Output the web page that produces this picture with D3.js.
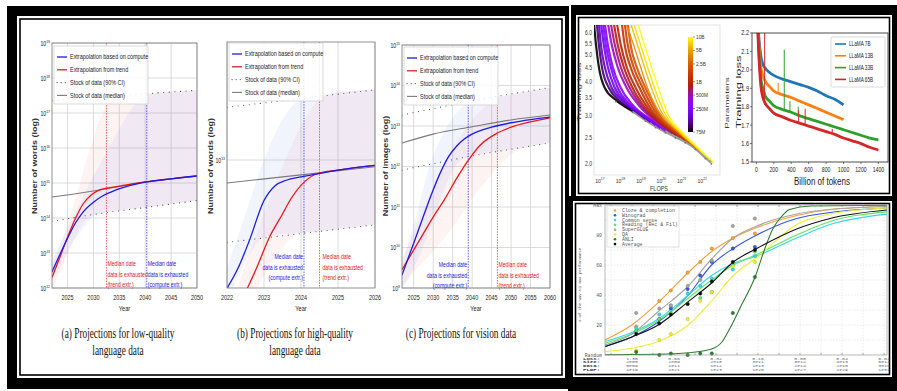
<!DOCTYPE html>
<html><head><meta charset="utf-8">
<script src="https://cdn.jsdelivr.net/npm/d3@7/dist/d3.min.js"></script>
<style>html,body{margin:0;padding:0;background:#fff;overflow:hidden}svg{display:block}</style>
</head><body>
<svg id="chart" width="897" height="391"></svg>
<script>
// ================= DATA =================
// Left figure — all values are log10 of the quantity, as [year, value] or [year, low, high]
const legendLabels = ["Extrapolation based on compute", "Extrapolation from trend", "Stock of data (90% CI)", "Stock of data (median)"];
const computeNote = ["Median date", "data is exhausted", "(compute extr.)"];
const trendNote = ["Median date", "data is exhausted", "(trend extr.)"];

// (a) low-quality language data (words)
const aMedian = [[2022,14.6],[2026,14.68],[2030,14.77],[2035,14.9],[2040,15.03],[2045,15.12],[2050,15.2]];
const aLow = [[2022,13.9],[2030,14.1],[2040,14.3],[2050,14.5]];
const aHigh = [[2022,17.35],[2030,17.45],[2040,17.55],[2050,17.65]];
const aCompute = [[2022,12.46],[2023.5,12.95],[2025,13.42],[2026.5,13.85],[2028,14.17],[2030,14.45],[2032,14.65],[2034,14.78],[2036,14.88],[2038,14.96],[2040.3,15.03],[2045,15.12],[2050,15.2]];
const aTrend = [[2022,12.3],[2023.5,12.87],[2025,13.45],[2026.5,13.98],[2028,14.4],[2029.5,14.65],[2031,14.79],[2032.5,14.85],[2035,14.91],[2040,15.03],[2045,15.12],[2050,15.2]];
const aComputeCI = [[2022,12.2,12.75],[2024,12.75,13.4],[2026,13.3,14.0],[2028,13.7,14.6],[2030,14.05,15.2],[2033,14.17,16.0],[2036,14.23,16.8],[2039,14.28,17.4],[2042,14.34,17.58],[2050,14.5,17.65]];
const aTrendCI = [[2022,12.0,12.6],[2024,12.6,13.4],[2026,13.3,14.3],[2028,13.85,15.3],[2030,14.1,16.3],[2032,14.14,17.1],[2034,14.18,17.5],[2040,14.3,17.55],[2050,14.5,17.65]];
const aExhaust = [2032.5, 2040.3]; // [trend, compute]
const aXTicks = [2025, 2030, 2035, 2040, 2045, 2050];
const aYTicks = [12, 13, 14, 15, 16, 17, 18, 19];

// (b) high-quality language data (words)
const bMedian = [[2022,12.83],[2024,12.89],[2026,12.95]];
const bLow = [[2022,12.39],[2026,12.52]];
const bHigh = [[2022,13.39],[2026,13.52]];
const bCompute = [[2022,12.05],[2022.3,12.2],[2022.6,12.4],[2023,12.7],[2023.3,12.81],[2023.6,12.85],[2024,12.875],[2024.4,12.895],[2025,12.925],[2026,12.96]];
const bTrend = [[2022.55,12.05],[2022.8,12.2],[2023.15,12.43],[2023.5,12.6],[2023.7,12.7],[2024.1,12.84],[2024.45,12.9],[2025,12.925],[2026,12.96]];
const bComputeCI = [[2022,11.95,12.2],[2022.5,12.25,12.6],[2023,12.43,13.0],[2023.5,12.45,13.3],[2024,12.46,13.45],[2024.5,12.47,13.48],[2026,12.52,13.52]];
const bTrendCI = [[2022.2,11.9,12.0],[2022.6,11.95,12.3],[2023,12.15,12.6],[2023.5,12.35,12.95],[2024,12.46,13.25],[2024.5,12.47,13.45],[2025,12.49,13.5],[2026,12.52,13.52]];
const bExhaust = [2024.5, 2024.08];
const bXTicks = [2022, 2023, 2024, 2025, 2026];
const bYTicks = [13];

// (c) vision data (images)
const cMedian = [[2022,12.58],[2030,12.8],[2040,12.98],[2050,13.15],[2060,13.27]];
const cLow = [[2022,11.91],[2040,12.26],[2060,12.58]];
const cHigh = [[2022,13.27],[2040,13.62],[2060,13.95]];
const cCompute = [[2022,9.32],[2026,10.37],[2030,11.42],[2032,11.88],[2034,12.25],[2036,12.5],[2038,12.68],[2040,12.8],[2045,12.97],[2050,13.08],[2055,13.16],[2060,13.22]];
const cTrend = [[2022,9.45],[2026,10.1],[2030,10.75],[2033,11.2],[2036,11.7],[2039,12.15],[2042,12.52],[2046,12.8],[2050,12.97],[2055,13.1],[2060,13.2]];
const cComputeCI = [[2022,9.0,9.6],[2026,9.7,10.9],[2029,10.4,12.0],[2032,11.2,12.7],[2035,11.9,13.2],[2038,12.2,13.52],[2042,12.3,13.66],[2050,12.42,13.78],[2060,12.58,13.95]];
const cTrendCI = [[2022,9.0,9.7],[2026,9.5,10.6],[2030,9.9,11.5],[2035,10.5,12.45],[2040,11.2,13.15],[2045,11.8,13.6],[2050,12.3,13.78],[2055,12.5,13.87],[2060,12.58,13.95]];
const cExhaust = [2046.5, 2039.0];
const cXTicks = [2025, 2030, 2035, 2040, 2045, 2050, 2055, 2060];
const cYTicks = [9, 10, 11, 12, 13, 14, 15];

// Top-right (1): training loss vs FLOPS, one curve per model size, points are [log10 FLOPS, loss]
const scalingParams = [75e6, 110e6, 150e6, 200e6, 250e6, 300e6, 450e6, 600e6, 800e6, 1e9, 1.3e9, 1.7e9, 2.2e9, 4e9, 6e9, 8e9, 10e9];
const scalingCurves = [
  [[16.71,6.5],[16.81,5.42],[16.95,4.5],[17.24,3.78],[17.78,3.42],[18.6,3.12]],
  [[16.85,6.5],[16.95,5.42],[17.10,4.5],[17.44,3.78],[17.97,3.39],[18.8,3.09],[19.23,2.92]],
  [[16.95,6.5],[17.05,5.42],[17.24,4.5],[17.58,3.78],[18.12,3.39],[18.99,3.04],[19.48,2.84]],
  [[17.05,6.5],[17.19,5.42],[17.39,4.5],[17.73,3.78],[18.31,3.33],[19.23,2.96],[19.72,2.77]],
  [[17.15,6.5],[17.29,5.42],[17.53,4.5],[17.87,3.78],[18.46,3.3],[19.48,2.89],[19.96,2.7]],
  [[17.24,6.5],[17.39,5.42],[17.63,4.5],[18.02,3.78],[18.6,3.28],[19.72,2.82],[20.2,2.64]],
  [[17.39,6.5],[17.58,5.42],[17.87,4.5],[18.31,3.78],[18.89,3.28],[19.96,2.77],[20.54,2.59]],
  [[17.53,6.5],[17.73,5.42],[18.02,4.5],[18.46,3.78],[19.04,3.25],[20.16,2.73],[20.74,2.55]],
  [[17.68,6.5],[17.87,5.42],[18.17,4.5],[18.6,3.78],[19.18,3.22],[20.35,2.68],[20.93,2.51]],
  [[17.83,6.5],[18.02,5.42],[18.31,4.5],[18.75,3.78],[19.33,3.2],[20.54,2.64],[21.17,2.45]],
  [[18.07,6.5],[18.21,5.42],[18.5,4.5],[18.94,3.78],[19.52,3.14],[20.74,2.59],[21.42,2.39]],
  [[18.21,6.5],[18.36,5.42],[18.65,4.5],[19.09,3.78],[19.67,3.12],[20.93,2.55],[21.66,2.31]],
  [[18.36,6.5],[18.5,5.42],[18.8,4.5],[19.23,3.78],[19.82,3.09],[21.13,2.51],[21.9,2.23]],
  [[18.26,6.5],[18.65,5.42],[18.99,4.5],[19.33,3.78],[19.77,3.2],[20.54,2.73],[21.42,2.39],[22.05,2.18]],
  [[18.5,6.5],[18.84,5.42],[19.18,4.5],[19.52,3.78],[19.96,3.14],[20.74,2.68],[21.61,2.33],[22.24,2.12]],
  [[18.65,6.5],[18.99,5.42],[19.33,4.5],[19.67,3.78],[20.11,3.12],[20.88,2.64],[21.76,2.29],[22.39,2.07]],
  [[18.84,6.5],[19.18,5.42],[19.52,4.5],[19.86,3.78],[20.3,3.06],[21.08,2.59],[21.9,2.25],[22.58,2.02]]
];
const scalingFrontier = [[17.78,3.42],[18.6,3.12],[19.23,2.9],[19.72,2.75],[20.2,2.63],[20.69,2.52],[21.17,2.42],[21.66,2.29],[22.15,2.12],[22.45,2.03]];
const scalingXTicks = [17, 18, 19, 20, 21, 22];
const scalingYTicks = [2.0, 2.5, 3.0, 3.5, 4.0, 4.5, 5.0, 5.5, 6.0];
const cbarTicks = [[1e10,"10B"],[5e9,"5B"],[2.5e9,"2.5B"],[1e9,"1B"],[5e8,"500M"],[2.5e8,"250M"],[7.5e7,"75M"]];

// Top-right (2): LLaMA training loss vs billions of tokens
const llamaNames = ["LLaMA 7B", "LLaMA 13B", "LLaMA 33B", "LLaMA 65B"];
const llamaColors = ["#1f77b4", "#ff7f0e", "#2ca02c", "#d62728"];
const llama7 = [[5,2.4],[25,2.2],[50,2.08],[75,2.03],[100,2.01],[140,1.99],[200,1.97],[300,1.95],[400,1.935],[500,1.92],[600,1.905],[700,1.885],[800,1.86],[900,1.84],[1000,1.81]];
const llama13 = [[5,2.4],[22,2.2],[50,2.02],[75,1.97],[100,1.94],[150,1.91],[200,1.885],[300,1.865],[400,1.85],[500,1.83],[600,1.81],[700,1.79],[800,1.77],[900,1.75],[1000,1.73]];
const llama33 = [[5,2.4],[20,2.2],[50,1.96],[75,1.9],[100,1.86],[150,1.83],[200,1.805],[300,1.785],[400,1.77],[500,1.75],[600,1.735],[700,1.72],[800,1.705],[900,1.69],[1000,1.675],[1100,1.66],[1200,1.645],[1300,1.63],[1400,1.62]];
const llama65 = [[5,2.4],[18,2.2],[50,1.92],[75,1.85],[100,1.82],[150,1.79],[200,1.765],[300,1.745],[400,1.725],[500,1.71],[600,1.695],[700,1.68],[800,1.665],[900,1.65],[1000,1.63],[1100,1.615],[1200,1.6],[1300,1.58],[1400,1.565]];
const llamaSpikes = [[1,250,1.88,1.93],[2,320,1.78,2.11],[2,385,1.77,1.83],[2,480,1.75,1.8],[3,95,1.81,2.2],[3,485,1.71,1.78],[3,560,1.70,1.79],[3,870,1.66,1.68]];
const llamaXTicks = [0, 200, 400, 600, 800, 1000, 1200, 1400];
const llamaYTicks = [1.5, 1.6, 1.7, 1.8, 1.9, 2.0, 2.1, 2.2];

// Bottom-right: % of the way to max performance vs log10 FLOP
const taskNames = ["Cloze & completion", "Winograd", "Common sense", "Reading (Rec & Fil)", "SuperGLUE", "QA", "ANLI", "Average"];
const taskColors = ["#f5a03c", "#3458e0", "#35d6ea", "#62e462", "#a4a4a4", "#ecec3a", "#2e7d32", "#111111"];
const taskCurves = [
  [[17.71,10],[18.99,20],[20.25,35],[21.68,55],[22.79,69],[23.82,78],[24.94,85],[26.84,93],[28.43,97],[31.2,99]],
  [[17.71,5.6],[18.99,12],[20.25,22],[21.68,40],[22.79,60],[23.82,71],[24.94,80],[26.84,91],[28.43,95],[31.2,98]],
  [[17.71,9],[18.99,15],[20.25,24],[21.68,40],[22.79,53],[23.82,61],[24.94,66],[26.84,78],[28.43,87],[31.2,94]],
  [[17.71,7.8],[18.99,14],[20.25,23],[21.68,38],[22.79,50],[23.82,60],[24.94,67],[26.84,80],[28.43,89],[31.2,95.5]],
  [[17.71,6.7],[18.99,14],[20.25,29],[21.68,46],[22.79,64],[23.82,78],[24.94,86],[26.84,94],[28.43,97],[31.2,99]],
  [[17.71,2.2],[18.99,4.5],[20.25,9],[21.68,20],[22.79,36],[23.82,53],[24.94,65],[26.84,87],[28.43,94],[31.2,98]],
  [[17.71,0.2],[20.25,0.5],[21.68,1.5],[22.79,4],[23.3,9],[23.67,18],[24.2,33],[24.86,52],[25.3,70],[25.7,84],[26.1,92],[26.5,97],[27.5,99.3],[31.2,99.8]],
  [[17.71,5.6],[18.99,12],[20.25,20],[21.68,35.6],[22.79,48],[23.82,62],[24.94,71],[26.84,84],[28.43,91],[31.2,96.7]]
];
const taskPointF = [19.2, 20.3, 20.85, 21.65, 22.25, 22.8, 23.8, 24.85];
const taskPoints = [
  [19, 36, 43, 55, 62, 71, 78, 81],
  [16, 24, 31, 44, 53, 62, 71, 72],
  [18, 27, 33, 41, 46, 51, 57, 66],
  [16, 24, 28, 34, 38, 42, 60, 69],
  [28, 31, 33, 46, 50, 63, 86, 91],
  [3, 10, 14, 24, 36, 42, 59, 62],
  [2, 0, 1, 0, 1, 1, 28, 52],
  [14, 21, 27, 34, 41, 49, 62, 70]
];
const brTickF = [19, 21, 23, 25, 27, 29, 31];
const brRows = ["Loss:", "Size:", "Data:", "FLOP:"];
const brLoss = ["1.30", "0.66", "0.32", "0.16", "0.08", "0.04", "0.02"];
const brSize = ["2e08", "2e09", "2e10", "3e11", "3e12", "4e13", "5e14"];
const brData = ["5e09", "1e11", "1e12", "1e13", "2e14", "2e15", "3e16"];
const brFlop = ["1e19", "1e21", "1e23", "1e25", "1e27", "1e29", "1e31"];
const brYTicks = [[0,"Random"],[20,"20"],[40,"40"],[60,"60"],[80,"80"],[100,"Max"]];

// ================= DRAWING =================
const svg = d3.select('#chart');
const SANS = "'Liberation Sans', Arimo, Arial, sans-serif";
const SERIF = "'Liberation Serif', Tinos, 'Times New Roman', serif";
const MONO = "'Liberation Mono', 'DejaVu Sans Mono', monospace";

function T(g, x, y, s, o = {}) {
  const sx = o.sx || 1;
  const tr = o.rot ? `translate(${x},${y}) rotate(${o.rot}) scale(1,${sx})` : `translate(${x},${y}) scale(${sx},1)`;
  const t = g.append('text').attr('transform', tr)
    .attr('font-family', o.ff || SANS).attr('font-size', o.fs || 7)
    .attr('fill', o.fill || '#222').attr('text-anchor', o.anchor || 'start');
  if (o.fw) t.attr('font-weight', o.fw);
  if (s !== null) t.text(s);
  return t;
}

svg.append('rect').attr('width', 897).attr('height', 391).attr('fill', '#fff');

function frame(x0, y0, x1, y1, tl, tt, tr, tb, inset) {
  const g = svg.append('g');
  g.append('rect').attr('x', x0).attr('y', y0).attr('width', x1 - x0).attr('height', y1 - y0).attr('fill', '#000');
  g.append('rect').attr('x', x0 + tl).attr('y', y0 + tt).attr('width', x1 - x0 - tl - tr).attr('height', y1 - y0 - tt - tb).attr('fill', '#fff');
  g.append('rect').attr('x', x0 + tl + inset).attr('y', y0 + tt + inset)
    .attr('width', x1 - x0 - tl - tr - 2 * inset).attr('height', y1 - y0 - tt - tb - 2 * inset)
    .attr('fill', 'none').attr('stroke', '#000').attr('stroke-width', 1.6);
}
frame(7, 6, 569, 389, 10, 10, 4, 11, 3);
frame(568, 196, 897, 391, 5, 5, 5, 14, 2.5);
frame(571, 5, 897, 200, 5, 10, 5, 4, 2.5);

// ---------- left figure ----------
function projPanel(c) {
  const g = svg.append('g');
  const x = d3.scaleLinear().domain(c.xd).range([c.L, c.R]);
  const y = d3.scaleLog().domain([10 ** c.yd[0], 10 ** c.yd[1]]).range([c.B, c.T]);
  const Y = v => y(10 ** v);
  const cid = 'clip-' + c.id;
  g.append('clipPath').attr('id', cid).append('rect').attr('x', c.L).attr('y', c.T).attr('width', c.R - c.L).attr('height', c.B - c.T);
  c.xt.forEach(v => g.append('line').attr('x1', x(v)).attr('x2', x(v)).attr('y1', c.T).attr('y2', c.B).attr('stroke', '#d2d2d2').attr('stroke-width', 0.8));
  c.yt.forEach(e => g.append('line').attr('x1', c.L).attr('x2', c.R).attr('y1', Y(e)).attr('y2', Y(e)).attr('stroke', '#d2d2d2').attr('stroke-width', 0.8));
  const p = g.append('g').attr('clip-path', `url(#${cid})`);
  const area = d3.area().x(d => x(d[0])).y0(d => Y(d[1])).y1(d => Y(d[2])).curve(d3.curveMonotoneX);
  const line = d3.line().x(d => x(d[0])).y(d => Y(d[1])).curve(d3.curveMonotoneX);
  p.append('path').attr('d', area(c.trendCI)).attr('fill', '#f07a7a').attr('fill-opacity', 0.09);
  p.append('path').attr('d', area(c.computeCI)).attr('fill', '#7a86f0').attr('fill-opacity', 0.1);
  [c.low, c.high].forEach(s => p.append('path').attr('d', line(s)).attr('fill', 'none').attr('stroke', '#444')
    .attr('stroke-width', 1.1).attr('stroke-dasharray', '0.1,5.5').attr('stroke-linecap', 'round'));
  p.append('path').attr('d', line(c.median)).attr('fill', 'none').attr('stroke', '#7a7a7a').attr('stroke-width', 1.1);
  [[c.ex[0], '#e33'], [c.ex[1], '#33e']].forEach(([v, col]) => p.append('line').attr('x1', x(v)).attr('x2', x(v))
    .attr('y1', c.T).attr('y2', c.B).attr('stroke', col).attr('stroke-width', 0.8).attr('stroke-dasharray', '1.5,1.2'));
  p.append('path').attr('d', line(c.trend)).attr('fill', 'none').attr('stroke', '#e8191e').attr('stroke-width', 1.3);
  p.append('path').attr('d', line(c.compute)).attr('fill', 'none').attr('stroke', '#1c1cdc').attr('stroke-width', 1.3);
  g.append('rect').attr('x', c.L).attr('y', c.T).attr('width', c.R - c.L).attr('height', c.B - c.T)
    .attr('fill', 'none').attr('stroke', '#777').attr('stroke-width', 0.8);
  c.xt.forEach(v => T(g, x(v), c.B + 12, String(v), { anchor: 'middle', fs: 7, sx: 0.78 }));
  c.yt.forEach(e => {
    const t = T(g, c.L - 2, Y(e) + 2.5, null, { anchor: 'end', fs: 6.5, sx: 0.8 });
    t.append('tspan').text('10');
    t.append('tspan').attr('dy', -3).attr('font-size', 4.3).text(e);
  });
  T(g, (c.L + c.R) / 2, c.B + 23, 'Year', { anchor: 'middle', fs: 7, sx: 0.8 });
  T(g, c.ylx, 166, c.ylabel, { rot: -90, anchor: 'middle', fs: 9, fw: 'bold', sx: 0.72, fill: '#333' });
  const lg = g.append('g');
  lg.append('rect').attr('x', c.lx).attr('y', c.ly).attr('width', 94).attr('height', 58)
    .attr('fill', '#fff').attr('fill-opacity', 0.85).attr('stroke', '#ccc').attr('stroke-width', 0.7);
  legendLabels.forEach((s, i) => {
    const yy = c.ly + 11 + i * 12.8;
    const st = lg.append('line').attr('x1', c.lx + 3).attr('x2', c.lx + 13).attr('y1', yy).attr('y2', yy);
    if (i === 0) st.attr('stroke', '#1c1cdc').attr('stroke-width', 1.3);
    if (i === 1) st.attr('stroke', '#e8191e').attr('stroke-width', 1.3);
    if (i === 2) st.attr('stroke', '#444').attr('stroke-width', 1.1).attr('stroke-dasharray', '0.1,4').attr('stroke-linecap', 'round');
    if (i === 3) st.attr('stroke', '#7a7a7a').attr('stroke-width', 1.1);
    T(lg, c.lx + 16, yy + 2.4, s, { fs: 7, sx: 0.78 });
  });
  const note = (xx, col, lines, anchor) => lines.forEach((s, i) => T(g, xx, c.annY + i * 10.5, s, { fs: 7, sx: 0.74, fill: col, anchor }));
  note(x(c.ex[0]) + c.tNote[0], '#e02020', trendNote, c.tNote[1]);
  note(x(c.ex[1]) + c.cNote[0], '#2020e0', computeNote, c.cNote[1]);
  c.caption.forEach((s, i) => T(g, c.capX, 338 + i * 17, s, { anchor: 'middle', ff: SERIF, fs: 15, sx: 0.62, fill: '#111' }));
}

projPanel({ id: 'a', xd: [2022, 2050], yd: [12, 19], L: 52, R: 197, T: 43, B: 288, xt: aXTicks, yt: aYTicks,
  median: aMedian, low: aLow, high: aHigh, compute: aCompute, trend: aTrend, computeCI: aComputeCI, trendCI: aTrendCI,
  ex: aExhaust, ylabel: 'Number of words (log)', ylx: 37, lx: 54, ly: 46, annY: 266, tNote: [1, 'start'], cNote: [1, 'start'],
  caption: ['(a) Projections for low-quality', 'language data'], capX: 118 });
projPanel({ id: 'b', xd: [2022, 2026], yd: [12.052, 13.874], L: 227, R: 375, T: 42, B: 288, xt: bXTicks, yt: bYTicks,
  median: bMedian, low: bLow, high: bHigh, compute: bCompute, trend: bTrend, computeCI: bComputeCI, trendCI: bTrendCI,
  ex: bExhaust, ylabel: 'Number of words (log)', ylx: 213, lx: 229, ly: 43, annY: 259, tNote: [3, 'start'], cNote: [-1, 'end'],
  caption: ['(b) Projections for high-quality', 'language data'], capX: 295 });
projPanel({ id: 'c', xd: [2022, 2060], yd: [9, 15], L: 402, R: 550, T: 45, B: 288, xt: cXTicks, yt: cYTicks,
  median: cMedian, low: cLow, high: cHigh, compute: cCompute, trend: cTrend, computeCI: cComputeCI, trendCI: cTrendCI,
  ex: cExhaust, ylabel: 'Number of images (log)', ylx: 388, lx: 404, ly: 47, annY: 267, tNote: [1, 'start'], cNote: [-1, 'end'],
  caption: ['(c) Projections for vision data'], capX: 461 });

// ---------- top-right: scaling curves ----------
(function () {
  const g = svg.append('g');
  const L = 594, R = 720, Tp = 25, B = 175;
  const x = d3.scaleLog().domain([10 ** 16.71, 10 ** 22.87]).range([L, R]);
  const y = d3.scaleLog().domain([1.824, 6.41]).range([B, Tp]);
  const pc = d3.scaleLog().domain([75e6, 1e10]).range([0, 1]).clamp(true);
  const cmap = t => {
    const r = Math.sqrt(t), gg = t * t * t, b = Math.max(0, Math.sin(2 * Math.PI * t));
    return d3.rgb(255 * r, 255 * gg, 255 * b).formatHex();
  };
  g.append('clipPath').attr('id', 'clip-s').append('rect').attr('x', L).attr('y', Tp).attr('width', R - L).attr('height', B - Tp);
  g.append('rect').attr('x', L).attr('y', Tp).attr('width', R - L).attr('height', B - Tp).attr('fill', '#fff').attr('stroke', '#ddd').attr('stroke-width', 0.8);
  const p = g.append('g').attr('clip-path', 'url(#clip-s)');
  const line = d3.line().x(d => x(10 ** d[0])).y(d => y(d[1])).curve(d3.curveMonotoneX);
  p.append('path').attr('d', line(scalingFrontier)).attr('fill', 'none').attr('stroke', '#8a8a8a').attr('stroke-width', 3.4).attr('stroke-opacity', 0.85);
  scalingCurves.forEach((c, i) => p.append('path').attr('d', line(c)).attr('fill', 'none')
    .attr('stroke', cmap(pc(scalingParams[i]))).attr('stroke-width', i < 13 ? 2.2 : 1.4).attr('stroke-opacity', 0.9));
  scalingFrontier.forEach(d => p.append('circle').attr('cx', x(10 ** d[0])).attr('cy', y(d[1]) + 1.5).attr('r', 0.9).attr('fill', '#777'));
  scalingXTicks.forEach(e => {
    const t = T(g, x(10 ** e), B + 8, null, { anchor: 'middle', fs: 6, sx: 0.85, fill: '#333' });
    t.append('tspan').text('10'); t.append('tspan').attr('dy', -2.6).attr('font-size', 4).text(e);
  });
  scalingYTicks.forEach(v => T(g, L - 2, y(v) + 2.3, v.toFixed(1), { anchor: 'end', fs: 6.3, sx: 0.8, fill: '#333' }));
  T(g, (L + R) / 2 + 2, B + 16, 'FLOPS', { anchor: 'middle', fs: 6.5, sx: 0.85, fill: '#333' });
  T(g, 581, 92, 'Training loss', { rot: -90, anchor: 'middle', fs: 10.5, sx: 0.5, fill: '#333' });
  const cy = d3.scaleLog().domain([7.5e7, 1e10]).range([132, 37]);
  const grad = svg.append('defs').append('linearGradient').attr('id', 'cbar').attr('x1', 0).attr('y1', 1).attr('x2', 0).attr('y2', 0);
  d3.range(0, 1.0001, 0.05).forEach(t => grad.append('stop').attr('offset', t).attr('stop-color', cmap(t)));
  g.append('rect').attr('x', 688).attr('y', cy(1e10)).attr('width', 5).attr('height', cy(7.5e7) - cy(1e10)).attr('fill', 'url(#cbar)');
  cbarTicks.forEach(([v, s]) => {
    g.append('line').attr('x1', 693).attr('x2', 695).attr('y1', cy(v)).attr('y2', cy(v)).attr('stroke', '#333').attr('stroke-width', 0.5);
    T(g, 696, cy(v) + 2, s, { fs: 6, sx: 0.8, fill: '#333' });
  });
  T(g, 729, 103, 'Parameters', { rot: -90, anchor: 'middle', fs: 10, sx: 0.6, fill: '#333' });
})();

// ---------- top-right: LLaMA ----------
(function () {
  const g = svg.append('g');
  const L = 752, R = 888, Tp = 33, B = 162;
  const x = d3.scaleLinear().domain([-50, 1510]).range([L, R]);
  const y = d3.scaleLinear().domain([1.5, 2.2]).range([B, Tp]);
  g.append('clipPath').attr('id', 'clip-l').append('rect').attr('x', L).attr('y', Tp).attr('width', R - L).attr('height', B - Tp);
  const p = g.append('g').attr('clip-path', 'url(#clip-l)');
  const line = d3.line().x(d => x(d[0])).y(d => y(d[1])).curve(d3.curveMonotoneX);
  [llama7, llama13, llama33, llama65].forEach((s, i) => p.append('path').attr('d', line(s)).attr('fill', 'none')
    .attr('stroke', llamaColors[i]).attr('stroke-width', 2.8));
  llamaSpikes.forEach(([i, t, lo, hi]) => p.append('line').attr('x1', x(t)).attr('x2', x(t)).attr('y1', y(lo)).attr('y2', y(hi))
    .attr('stroke', llamaColors[i]).attr('stroke-width', 1));
  g.append('rect').attr('x', L).attr('y', Tp).attr('width', R - L).attr('height', B - Tp).attr('fill', 'none').attr('stroke', '#222').attr('stroke-width', 0.8);
  llamaXTicks.forEach(v => {
    g.append('line').attr('x1', x(v)).attr('x2', x(v)).attr('y1', B).attr('y2', B + 2).attr('stroke', '#222').attr('stroke-width', 0.6);
    T(g, x(v), B + 9.5, String(v), { anchor: 'middle', fs: 6.5, sx: 0.8, fill: '#222' });
  });
  llamaYTicks.forEach(v => {
    g.append('line').attr('x1', L - 2).attr('x2', L).attr('y1', y(v)).attr('y2', y(v)).attr('stroke', '#222').attr('stroke-width', 0.6);
    T(g, L - 3, y(v) + 2.4, v.toFixed(1), { anchor: 'end', fs: 7, sx: 0.8, fill: '#222' });
  });
  T(g, (L + R) / 2 + 2, B + 23, 'Billion of tokens', { anchor: 'middle', fs: 10, sx: 0.8, fill: '#222' });
  T(g, 741, 92, 'Training loss', { rot: -90, anchor: 'middle', fs: 13, sx: 0.62, fill: '#222' });
  const lg = g.append('g');
  lg.append('rect').attr('x', 831).attr('y', 37).attr('width', 54).attr('height', 50).attr('fill', '#fff').attr('fill-opacity', 0.9)
    .attr('stroke', '#ccc').attr('stroke-width', 0.7).attr('rx', 1.5);
  llamaNames.forEach((s, i) => {
    const yy = 44 + i * 11.8;
    lg.append('line').attr('x1', 835).attr('x2', 846).attr('y1', yy).attr('y2', yy).attr('stroke', llamaColors[i]).attr('stroke-width', 1.6);
    T(lg, 849, yy + 2.3, s, { fs: 6.5, sx: 0.72, fill: '#222' });
  });
})();

// ---------- bottom-right: task performance ----------
(function () {
  const g = svg.append('g');
  const L = 605, R = 887, Tp = 205, B = 355;
  const x = d3.scaleLinear().domain([17.714, 31.14]).range([L, R]);
  const y = d3.scaleLinear().domain([0, 100]).range([B, Tp]);
  d3.range(18, 32).forEach(f => g.append('line').attr('x1', x(f)).attr('x2', x(f)).attr('y1', Tp).attr('y2', B)
    .attr('stroke', '#dcdcdc').attr('stroke-width', 0.6).attr('stroke-dasharray', '1.5,1.5'));
  d3.range(10, 100, 10).forEach(v => g.append('line').attr('x1', L).attr('x2', R).attr('y1', y(v)).attr('y2', y(v))
    .attr('stroke', '#dcdcdc').attr('stroke-width', 0.6).attr('stroke-dasharray', '1.5,1.5'));
  g.append('clipPath').attr('id', 'clip-t').append('rect').attr('x', L).attr('y', Tp - 2).attr('width', R - L).attr('height', B - Tp + 4);
  const p = g.append('g').attr('clip-path', 'url(#clip-t)');
  const line = d3.line().x(d => x(d[0])).y(d => y(d[1])).curve(d3.curveMonotoneX);
  taskCurves.forEach((c, i) => p.append('path').attr('d', line(c)).attr('fill', 'none').attr('stroke', taskColors[i]).attr('stroke-width', 1.1));
  taskPoints.forEach((row, i) => row.forEach((v, j) => p.append('circle').attr('cx', x(taskPointF[j])).attr('cy', y(v)).attr('r', 1.7)
    .attr('fill', taskColors[i]).attr('stroke', d3.color(taskColors[i]).darker(0.8)).attr('stroke-width', 0.4)));
  g.append('rect').attr('x', L).attr('y', Tp).attr('width', R - L).attr('height', B - Tp).attr('fill', 'none').attr('stroke', '#888').attr('stroke-width', 0.6);
  d3.range(18, 32).forEach(f => {
    g.append('line').attr('x1', x(f)).attr('x2', x(f)).attr('y1', Tp).attr('y2', Tp + 2).attr('stroke', '#666').attr('stroke-width', 0.5);
    g.append('line').attr('x1', x(f)).attr('x2', x(f)).attr('y1', B).attr('y2', B - 2).attr('stroke', '#666').attr('stroke-width', 0.5);
  });
  brYTicks.forEach(([v, s]) => T(g, L - 3, y(v) + 1.6, s, { anchor: 'end', ff: MONO, fs: 4.8, fill: '#555' }));
  brRows.forEach((s, r) => T(g, 583, 359.5 + r * 3.9, s, { ff: MONO, fs: 4.4, fw: 'bold', sx: 1.3, fill: '#333' }));
  [brLoss, brSize, brData, brFlop].forEach((arr, r) => arr.forEach((s, j) =>
    T(g, x(brTickF[j]), 359.5 + r * 3.9, s, { anchor: 'middle', ff: MONO, fs: 4.4, sx: 1.1, fill: '#666' })));
  T(g, 581, 285, '% of the way to max performance', { rot: -90, anchor: 'middle', ff: MONO, fs: 4, fill: '#444' });
  const lg = g.append('g');
  lg.append('rect').attr('x', 607).attr('y', 206).attr('width', 72).attr('height', 41).attr('fill', '#fff').attr('stroke', '#ccc').attr('stroke-width', 0.6);
  taskNames.forEach((s, i) => {
    const yy = 210.5 + i * 4.8;
    lg.append('circle').attr('cx', 615).attr('cy', yy).attr('r', 1.3).attr('fill', taskColors[i]);
    T(lg, 622, yy + 1.5, s, { ff: MONO, fs: 4.9, fill: '#555' });
  });
})();
</script>
</body></html>
